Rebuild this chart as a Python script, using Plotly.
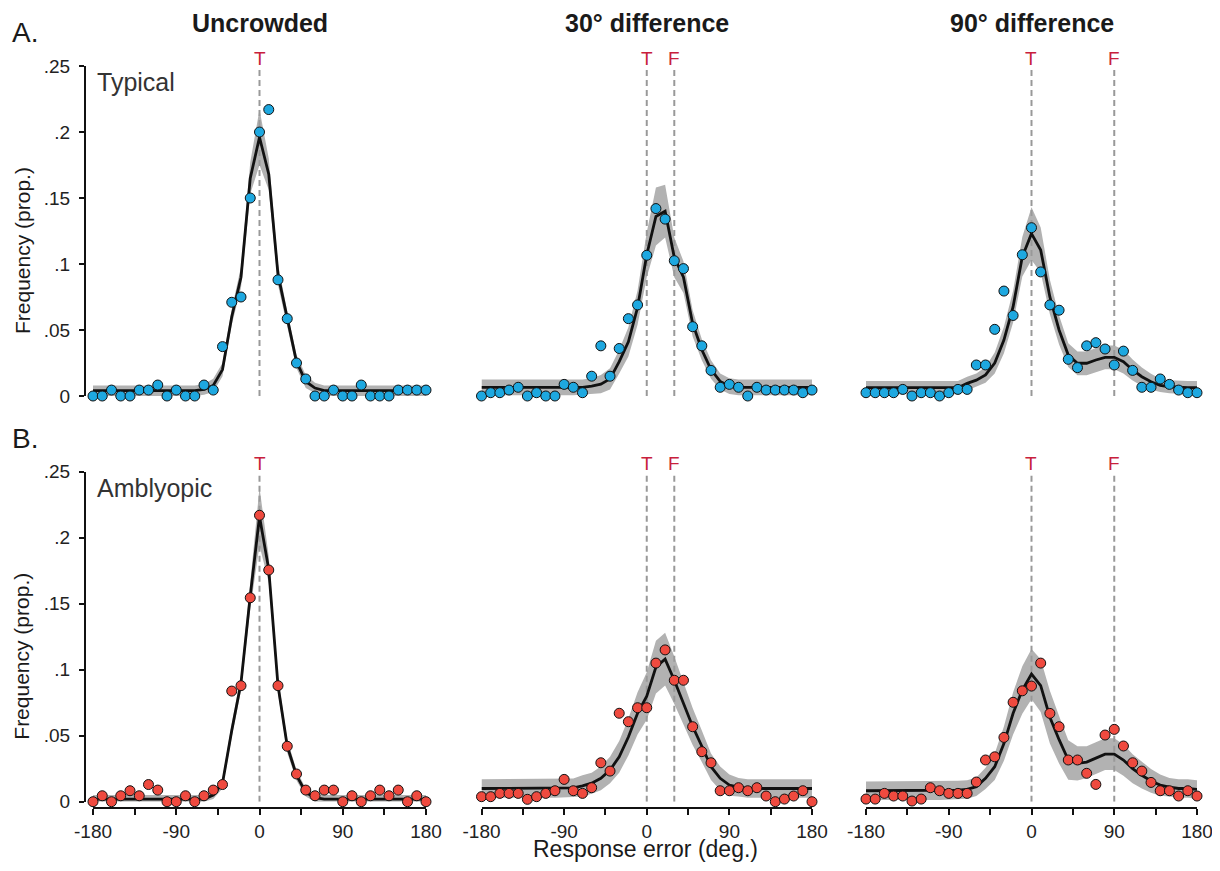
import plotly.graph_objects as go

# ---------------- data ----------------
angles = list(range(-180, 181, 10))
x_tick_vals = [-180, -135, -90, -45, 0, 45, 90, 135, 180]
x_tick_text = ["-180", "", "-90", "", "0", "", "90", "", "180"]
y_tick_vals = [0, 0.05, 0.10, 0.15, 0.20, 0.25]
y_tick_text = ["0", ".05", ".1", ".15", ".2", ".25"]

conditions = ["Uncrowded", "30° difference", "90° difference"]
groups = ["Typical", "Amblyopic"]
target_pos = 0
flanker_pos = [None, 30, 90]

# Typical observers
typ_unc_pts = [0, 0, .0045, 0, 0, .0045, .0045, .0083, 0, .0045, 0, 0, .0083, .0045, .0374, .071,
               .075, .150, .200, .217, .088, .0586, .025, .0129, 0, 0, .0045, 0, 0, .0083, 0, 0, 0,
               .0045, .0045, .0045, .0045]
typ_unc_fit = [.004, .004, .004, .004, .004, .004, .004, .004, .004, .004, .004, .004, .005, .008, .02,
               .06, .09, .165, .196, .168, .092, .058, .026, .011, .006, .004, .004, .004, .004, .004,
               .004, .004, .004, .004, .004, .004, .004]
typ_unc_ci = [.004, .004, .004, .004, .004, .004, .004, .004, .004, .004, .004, .004, .004, .005, .005,
              .006, .008, .012, .021, .012, .008, .006, .005, .005, .004, .004, .004, .004, .004, .004,
              .004, .004, .004, .004, .004, .004, .004]

typ_30_pts = [0, .0025, .0025, .0045, .0066, 0, .0025, 0, 0, .0088, .0066, .0025, .015, .038, .015, .036,
              .0586, .069, .1066, .142, .134, .1025, .0965, .0525, .038, .0194, .0066, .0088, .0066, 0,
              .0066, .0045, .0045, .0045, .0045, .0025, .0045]
typ_30_fit = [.0065, .0065, .0065, .0065, .0065, .0065, .0065, .0065, .0065, .0065, .0065, .0065, .0075,
              .009, .013, .026, .041, .067, .107, .136, .140, .105, .090, .055, .035, .020, .011, .0075,
              .0065, .0065, .0065, .0065, .0065, .0065, .0065, .0065, .0065]
typ_30_ci = [.006, .006, .006, .006, .006, .006, .006, .006, .006, .006, .006, .006, .006, .007, .008,
             .009, .011, .013, .017, .022, .020, .015, .012, .010, .008, .007, .006, .006, .006, .006,
             .006, .006, .006, .006, .006, .006, .006]

typ_90_pts = [.0025, .0025, .0025, .0025, .005, 0, .0025, .0025, 0, .0025, .005, .005, .0235, .0235,
              .0505, .0795, .061, .107, .1275, .094, .069, .065, .0278, .0215, .038, .0404, .0356, .0235,
              .034, .0194, .0066, .0066, .0129, .0088, .0045, .0025, .0025]
typ_90_fit = [.0063, .0063, .0063, .0063, .0063, .0063, .0063, .0063, .0063, .0063, .0063, .0096, .012,
              .016, .025, .0424, .0677, .1055, .123, .1106, .075, .050, .031, .0248, .0248, .0273, .0293,
              .0293, .026, .0197, .0146, .0108, .008, .007, .0065, .0063, .0063]
typ_90_ci = [.005, .005, .005, .005, .005, .005, .005, .005, .005, .005, .005, .005, .005, .006, .008,
             .010, .012, .015, .020, .017, .013, .011, .009, .009, .009, .009, .009, .009, .009, .008,
             .007, .006, .005, .005, .005, .005, .005]

# Amblyopic observers
amb_unc_pts = [0, .0045, 0, .0045, .0083, .0045, .013, .0088, 0, 0, .0045, 0, .0045, .0088, .013, .0838,
               .0879, .1545, .217, .1755, .0879, .042, .021, .0088, .0045, .0088, .0088, 0, .0045, 0,
               .0045, .0088, .0045, .0088, 0, .0045, 0]
amb_unc_fit = [.002, .002, .002, .002, .002, .002, .002, .002, .002, .002, .002, .002, .002, .005, .014,
               .054, .090, .156, .216, .176, .088, .042, .020, .007, .003, .002, .002, .002, .002, .002,
               .002, .002, .002, .002, .002, .002, .002]
amb_unc_ci = [.003, .003, .003, .003, .003, .003, .003, .003, .003, .003, .003, .003, .003, .003, .004,
              .005, .006, .010, .022, .010, .006, .005, .004, .003, .003, .003, .003, .003, .003, .003,
              .003, .003, .003, .003, .003, .003, .003]

amb_30_pts = [.0038, .0038, .0063, .0063, .0063, .0018, .0038, .0063, .0083, .0169, .0083, .0063, .0106,
              .0295, .0232, .067, .0606, .0712, .0712, .105, .115, .092, .092, .0568, .0379, .0295,
              .0083, .0083, .0106, .0083, .0106, .0043, 0, .002, .0043, .0083, 0]
amb_30_fit = [.010, .010, .010, .010, .010, .010, .010, .010, .010, .010, .0105, .012, .014, .0177, .024,
              .034, .049, .067, .080, .102, .108, .092, .0745, .057, .042, .0265, .0177, .0126, .011,
              .010, .010, .010, .010, .010, .010, .010, .010]
amb_30_ci = [.007, .007, .007, .007, .007, .007, .007, .007, .007, .007, .007, .008, .008, .009, .010,
             .012, .014, .016, .018, .020, .020, .018, .016, .014, .012, .010, .009, .008, .007, .007,
             .007, .007, .007, .007, .007, .007, .007]

amb_90_pts = [.002, .002, .0063, .0043, .0043, .0005, .002, .0106, .0083, .0063, .0063, .0063, .0149,
              .0316, .034, .0487, .0753, .084, .0876, .105, .0669, .0568, .0316, .0316, .0215, .0131,
              .0505, .0548, .0422, .0295, .0232, .0146, .0083, .0083, .0043, .0083, .0043]
amb_90_fit = [.0083, .0083, .0083, .0083, .0083, .0083, .0083, .0083, .0083, .0083, .0088, .0093, .0114,
              .0177, .0265, .044, .067, .0846, .0967, .088, .064, .047, .0316, .029, .030, .033, .036,
              .036, .0316, .025, .020, .0157, .0126, .011, .010, .010, .0093]
amb_90_ci = [.007, .007, .007, .007, .007, .007, .007, .007, .007, .007, .007, .007, .007, .008, .010,
             .013, .016, .018, .019, .020, .020, .018, .015, .013, .012, .012, .012, .012, .012, .011,
             .010, .009, .008, .007, .007, .007, .007]

panels = [
    (0, 0, typ_unc_pts, typ_unc_fit, typ_unc_ci),
    (0, 1, typ_30_pts, typ_30_fit, typ_30_ci),
    (0, 2, typ_90_pts, typ_90_fit, typ_90_ci),
    (1, 0, amb_unc_pts, amb_unc_fit, amb_unc_ci),
    (1, 1, amb_30_pts, amb_30_fit, amb_30_ci),
    (1, 2, amb_90_pts, amb_90_fit, amb_90_ci),
]

# ---------------- styling / layout ----------------
PAGE_MARGIN = 8            # default body margin of the html page
W, H = 1220 - 2 * PAGE_MARGIN, 871 - 2 * PAGE_MARGIN
FONT = "Liberation Sans, Arial, Helvetica, sans-serif"
group_colors = ["#1ea8e0", "#ef4a3f"]
band_color = "#b2b2b2"
cue_color = "#c8203c"
col_px = [(93, 426), (481.5, 812), (866, 1197)]   # window pixel positions
row_px = [(66, 396), (471.7, 801.7)]


def xf(px):
    return (px - PAGE_MARGIN) / W


def yf(py):
    return 1 - (py - PAGE_MARGIN) / H


fig = go.Figure()
layout_axes = {}
annotations = []

for row, col, pts, fit, ci in panels:
    k = row * 3 + col + 1
    xa = "x" if k == 1 else f"x{k}"
    ya = "y" if k == 1 else f"y{k}"
    xname = "xaxis" if k == 1 else f"xaxis{k}"
    yname = "yaxis" if k == 1 else f"yaxis{k}"

    upper = [f + c for f, c in zip(fit, ci)]
    lower = [max(f - c, 0) for f, c in zip(fit, ci)]
    fig.add_trace(go.Scatter(x=angles + angles[::-1], y=upper + lower[::-1], fill="toself",
                             fillcolor=band_color, line=dict(width=0), mode="lines",
                             hoverinfo="skip", showlegend=False, xaxis=xa, yaxis=ya))

    cues = [("T", target_pos)]
    if flanker_pos[col] is not None:
        cues.append(("F", flanker_pos[col]))
    for lab, pos in cues:
        fig.add_trace(go.Scatter(x=[pos, pos], y=[0, 0.25], mode="lines",
                                 line=dict(color="#999999", width=2, dash="6px,4px"),
                                 hoverinfo="skip", showlegend=False, xaxis=xa, yaxis=ya))
        annotations.append(dict(x=pos, y=yf(row_px[row][0] - 8), xref=xa, yref="paper", text=lab,
                                showarrow=False, font=dict(family=FONT, size=19, color=cue_color),
                                yanchor="middle", xanchor="center"))

    fig.add_trace(go.Scatter(x=angles, y=fit, mode="lines", line=dict(color="#111111", width=2.8),
                             showlegend=False, xaxis=xa, yaxis=ya, cliponaxis=False))
    fig.add_trace(go.Scatter(x=angles, y=pts, mode="markers",
                             marker=dict(size=10, color=group_colors[row],
                                         line=dict(color="#111111", width=1)),
                             showlegend=False, xaxis=xa, yaxis=ya, cliponaxis=False))

    x0, x1 = col_px[col]
    ytop, ybot = row_px[row]
    xaxis = dict(domain=[xf(x0), xf(x1)], range=[-180, 180], showgrid=False, zeroline=False,
                 anchor=ya, fixedrange=True, automargin=False)
    if row == 1:
        xaxis.update(anchor="free", position=yf(808), showline=True, linecolor="#111111", linewidth=2,
                     ticks="outside", ticklen=6, tickwidth=2, tickcolor="#111111",
                     tickvals=x_tick_vals, ticktext=x_tick_text, ticklabeloverflow="allow",
                     tickfont=dict(family=FONT, size=19, color="#222222"))
    else:
        xaxis.update(showline=False, showticklabels=False, ticks="")
    yaxis = dict(domain=[yf(ybot), yf(ytop)], range=[0, 0.25], showgrid=False, zeroline=False,
                 anchor=xa, fixedrange=True, automargin=False)
    if col == 0:
        yaxis.update(anchor="free", position=xf(85), showline=True, linecolor="#111111", linewidth=2,
                     ticks="outside", ticklen=5, tickwidth=2, tickcolor="#111111",
                     tickvals=y_tick_vals, ticktext=y_tick_text, ticklabelstandoff=5,
                     ticklabeloverflow="allow",
                     tickfont=dict(family=FONT, size=19, color="#222222"))
    else:
        yaxis.update(showline=False, showticklabels=False, ticks="")
    layout_axes[xname] = xaxis
    layout_axes[yname] = yaxis

# column titles
for col, title in enumerate(conditions):
    x0, x1 = col_px[col]
    annotations.append(dict(x=xf((x0 + x1) / 2), y=yf(23), xref="paper", yref="paper",
                            text=f"<b>{title}</b>", showarrow=False,
                            font=dict(family=FONT, size=25, color="#1a1a1a"),
                            xanchor="center", yanchor="middle"))

# panel letters, group labels, y titles
for row, (letter, grp) in enumerate(zip(["A.", "B."], groups)):
    ytop, ybot = row_px[row]
    annotations.append(dict(x=xf(10), y=yf(ytop - 33), xref="paper", yref="paper", text=letter,
                            showarrow=False, font=dict(family=FONT, size=28, color="#1a1a1a"),
                            xanchor="left", yanchor="middle"))
    annotations.append(dict(x=xf(95), y=yf(ytop + 16), xref="paper", yref="paper", text=grp,
                            showarrow=False, font=dict(family=FONT, size=25, color="#333333"),
                            xanchor="left", yanchor="middle"))
    annotations.append(dict(x=xf(22), y=yf((ytop + ybot) / 2 + 20), xref="paper", yref="paper",
                            text="Frequency (prop.)", textangle=-90, showarrow=False,
                            font=dict(family=FONT, size=21, color="#1a1a1a"),
                            xanchor="center", yanchor="middle"))

annotations.append(dict(x=xf(645), y=yf(864), xref="paper", yref="paper",
                        text="Response error (deg.)", showarrow=False,
                        font=dict(family=FONT, size=23, color="#1a1a1a"),
                        xanchor="center", yanchor="bottom"))

fig.update_layout(width=W, height=H, margin=dict(l=0, r=0, t=0, b=0),
                  paper_bgcolor="white", plot_bgcolor="white",
                  annotations=annotations, showlegend=False, **layout_axes)

fig.write_html("out.html")
